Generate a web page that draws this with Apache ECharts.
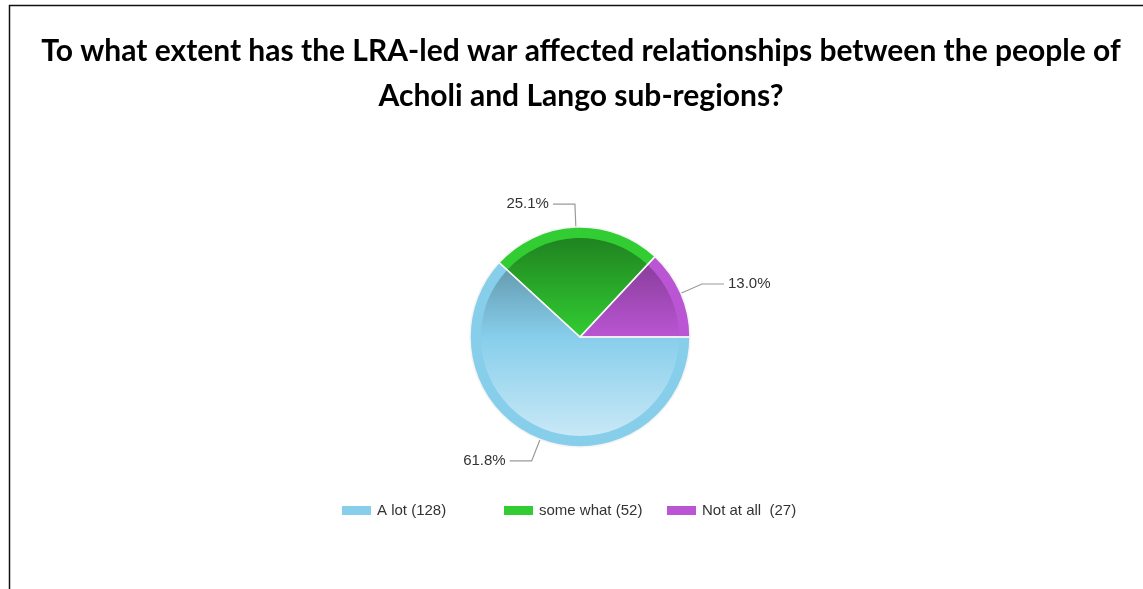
<!DOCTYPE html>
<html>
<head>
<meta charset="utf-8">
<script src="https://cdn.jsdelivr.net/npm/echarts@6/dist/echarts.min.js"></script>
<style>
  html, body { margin: 0; padding: 0; background: #fff; }
  #chart { width: 1143px; height: 589px; }
</style>
</head>
<body>
<div id="chart"></div>
<script>
// Survey answers and respondent counts
const categories = ['A lot', 'some what', 'Not at all'];
const counts = [128, 52, 27];
const legendSpacers = [' ', ' ', '  '];
const sliceColors = ['#87CEEB', '#32CD32', '#BA55D3'];
const titleText = 'To what extent has the LRA-led war affected relationships between the people of\nAcholi and Lango sub-regions?';

const CX = 580, CY = 337, R = 110, R_IN = 99;
const total = counts.reduce((a, b) => a + b, 0);

function hexToRgb(h) {
  const n = parseInt(h.slice(1), 16);
  return [(n >> 16) & 255, (n >> 8) & 255, n & 255];
}
function shade(h, f) {
  const c = hexToRgb(h).map(v => Math.round(v * f));
  return 'rgb(' + c.join(',') + ')';
}
function tint(h, t) {
  const c = hexToRgb(h).map(v => Math.round(v + (255 - v) * t));
  return 'rgb(' + c.join(',') + ')';
}
// Vertical shading for the inner disc: darker at the top, lighter at the bottom
function innerFill(h) {
  return {
    type: 'linear', global: true,
    x: 0, y: CY - R, x2: 0, y2: CY + R,
    colorStops: [
      { offset: 0, color: shade(h, 0.6) },
      { offset: 0.5, color: h },
      { offset: 1, color: tint(h, 0.6) }
    ]
  };
}

const rimData = categories.map((name, i) => ({
  name, value: counts[i], itemStyle: { color: sliceColors[i] }
}));
const innerData = categories.map((name, i) => ({
  name, value: counts[i], itemStyle: { color: innerFill(sliceColors[i]) }
}));
const edgeData = categories.map((name, i) => ({ name, value: counts[i] }));

const legendLeft = [337, 499, 662];
const legends = categories.map((name, i) => ({
  data: [name],
  left: legendLeft[i],
  top: 498,
  icon: 'rect',
  itemWidth: 29,
  itemHeight: 9,
  itemGap: 0,
  selectedMode: false,
  textStyle: { fontFamily: 'Liberation Sans', fontSize: 15, color: '#333', padding: [0, 0, 0, 1] },
  formatter: n => n + legendSpacers[i] + '(' + counts[i] + ')'
}));

const chart = echarts.init(document.getElementById('chart'), null, { renderer: 'canvas' });
chart.setOption({
  animation: false,
  backgroundColor: '#fff',
  title: {
    text: titleText,
    left: 576,
    textAlign: 'center',
    top: 24,
    textStyle: {
      fontFamily: 'Lato',
      fontWeight: 'bold',
      fontSize: 30,
      lineHeight: 45,
      color: '#000'
    }
  },
  legend: legends,
  graphic: [
    {
      type: 'polyline',
      shape: { points: [[9.5, 589], [9.5, 5.5], [1143, 5.5]] },
      style: { stroke: '#111', lineWidth: 1.5, fill: null },
      silent: true
    }
  ],
  series: [
    {
      type: 'pie',
      center: [CX, CY],
      radius: [0, R],
      startAngle: 0,
      clockwise: true,
      avoidLabelOverlap: false,
      silent: true,
      data: rimData,
      itemStyle: { borderWidth: 0 },
      label: {
        show: true,
        position: 'outside',
        formatter: p => (p.value / total * 100).toFixed(1) + '%',
        fontFamily: 'Liberation Sans',
        fontSize: 15,
        color: '#333',
        distanceToLabelLine: 4
      },
      labelLine: {
        show: true,
        length: 23,
        length2: 22,
        smooth: false,
        lineStyle: { color: '#9a9a9a', width: 1.2 }
      }
    },
    {
      type: 'pie',
      center: [CX, CY],
      radius: [0, R_IN],
      startAngle: 0,
      clockwise: true,
      silent: true,
      data: innerData,
      itemStyle: { borderWidth: 0 },
      label: { show: false },
      labelLine: { show: false }
    },
    {
      type: 'pie',
      center: [CX, CY],
      radius: [0, R],
      startAngle: 0,
      clockwise: true,
      silent: true,
      data: edgeData,
      itemStyle: { color: 'rgba(0,0,0,0)', borderColor: '#f4f4f4', borderWidth: 1.5 },
      label: { show: false },
      labelLine: { show: false }
    }
  ]
});
</script>
</body>
</html>
